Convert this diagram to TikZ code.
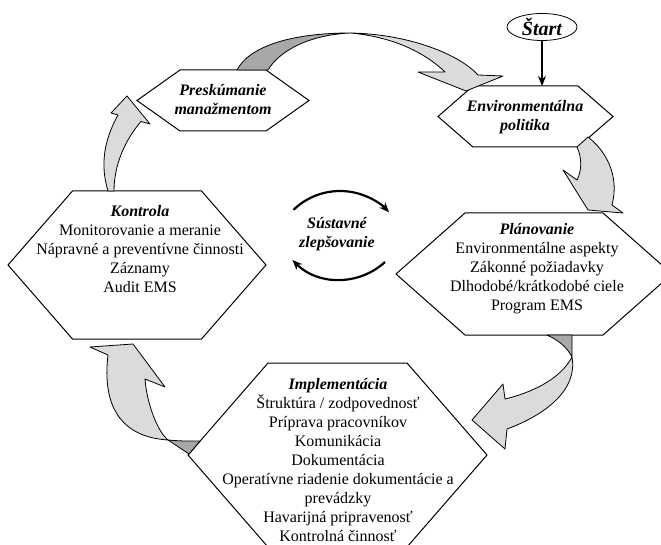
\documentclass[tikz,border=0pt]{standalone}
\usepackage{fontspec}
\setmainfont{Liberation Serif}
\usetikzlibrary{shapes.geometric, arrows.meta, positioning, calc}
\definecolor{ribbonlight}{gray}{0.86}
\definecolor{ribbondark}{gray}{0.66}

\newcommand{\hextitle}[1]{{\bfseries\itshape #1}}
\newcommand{\hexframe}[2]{%
  \draw[hexline] ($(#1.north west)+(#2,0)$) -- ($(#1.north east)-(#2,0)$) -- (#1.east)
    -- ($(#1.south east)-(#2,0)$) -- ($(#1.south west)+(#2,0)$) -- (#1.west) -- cycle;}

\begin{document}
\begin{tikzpicture}[
  x=1bp, y=-1bp,
  >=Stealth,
  font=\fontsize{16bp}{19bp}\selectfont,
  hexbox/.style={inner sep=0pt, outer sep=0pt},
  hexline/.style={draw, line width=1bp, fill=white},
  txt/.style={align=center, inner sep=0pt},
  ttl/.style={txt, font=\fontsize{16bp}{19bp}\selectfont\bfseries\itshape},
  ribbonfront/.style={draw, line width=0.8bp, fill=ribbonlight, line join=round},
  ribbonback/.style={ribbonfront, fill=ribbondark},
  turnarrow/.style={line width=2.2bp, -{Stealth[length=10bp, width=8bp]}},
  startbox/.style={draw, ellipse, line width=0.8bp, minimum width=70bp, minimum height=27bp, inner sep=0pt,
    font=\fontsize{20bp}{22bp}\selectfont\bfseries\itshape}
]
\useasboundingbox (0,0) rectangle (661,545);

% PHASE FRAMES
\node[hexbox, minimum width=172bp, minimum height=61bp] (rev) at (223,100.5) {};
\node[hexbox, minimum width=175bp, minimum height=61bp] (env) at (525.5,116.5) {};
\node[hexbox, minimum width=258bp, minimum height=148bp] (chk) at (137,265) {};
\node[hexbox, minimum width=276bp, minimum height=122bp] (plan) at (534,274) {};
\node[hexbox, minimum width=299bp, minimum height=184bp] (impl) at (337.5,455) {};
\hexframe{rev}{43}
\hexframe{env}{35}
\hexframe{chk}{64.5}
\hexframe{plan}{69}
\hexframe{impl}{80}

% CURVED ARROWS
% review -> policy
\draw[ribbonback] (237,70) .. controls (250,45) and (295,33) .. (350,33)
  .. controls (310,35) and (280,50) .. (268,70) -- cycle;
\draw[ribbonfront] (350,33) .. controls (410,34) and (460,55) .. (478,75)
  -- (503,76) -- (466,91) -- (418,72) -- (445,72)
  .. controls (420,48) and (385,36) .. cycle;
% policy -> planning
\draw[ribbonfront] (588,137) .. controls (605,150) and (620,175) .. (612,205)
  -- (623,213) -- (588,210) -- (563,170) -- (577,180)
  .. controls (582,170) and (582,158) .. (577,147) -- cycle;
% planning -> implementation
\draw[ribbonback] (547,335) .. controls (558,340) and (567,347) .. (572,357) -- (572,335) -- cycle;
\draw[ribbonfront] (572,357) .. controls (578,390) and (545,415) .. (507,429)
  -- (505,449) -- (472,420) -- (503,384) -- (505,399)
  .. controls (530,393) and (560,380) .. cycle;
% implementation -> checking
\draw[ribbonback] (168,440) .. controls (180,441) .. (200,441) -- (189,454)
  .. controls (178,447) .. cycle;
\draw[ribbonfront] (108,355) .. controls (102,405) and (120,437) .. (168,440)
  .. controls (158,432) and (147,405) .. (145,379)
  -- (165,387) -- (133,344) -- (90,347) -- cycle;
% checking -> review
\draw[ribbonfront] (108,191) .. controls (100,165) and (104,140) .. (118,115)
  -- (111,113) -- (127,96) -- (150,124) -- (141,121.5)
  .. controls (125,140) and (114,165) .. (114,191) -- cycle;

% TEXTS
\node[startbox] (start) at (542,27) {Štart};
\draw[line width=1.5bp, -{Stealth[length=10bp, width=8bp]}] (start) -- (start |- env.north);

\node[ttl] (revtext) at (223,99.5) {Preskúmanie\\manažmentom};
\node[ttl] (envtext) at (525,117.5) {Environmentálna\\politika};
\node[txt] (chktext) at (140,249) {\hextitle{Kontrola}\\Monitorovanie a meranie\\Nápravné a preventívne činnosti\\Záznamy\\Audit EMS};
\node[txt] (plantext) at (537,269) {\hextitle{Plánovanie}\\Environmentálne aspekty\\Zákonné požiadavky\\Dlhodobé/krátkodobé ciele\\Program EMS};
\node[txt] (impltext) at (338,460.5) {\hextitle{Implementácia}\\Štruktúra / zodpovednosť\\Príprava pracovníkov\\Komunikácia\\Dokumentácia\\Operatívne riadenie dokumentácie a\\prevádzky\\Havarijná pripravenosť\\Kontrolná činnosť};

% CONTINUAL IMPROVEMENT
\node[ttl] (sz) at (337,234) {Sústavné\\zlepšovanie};
\draw[turnarrow] ($(sz)+(-43.5,-24.2)$) arc[start angle=-134, end angle=-43, radius=67];
\draw[turnarrow] ($(sz)+(48,28)$) arc[start angle=47.5, end angle=135, radius=67];

\end{tikzpicture}
\end{document}
